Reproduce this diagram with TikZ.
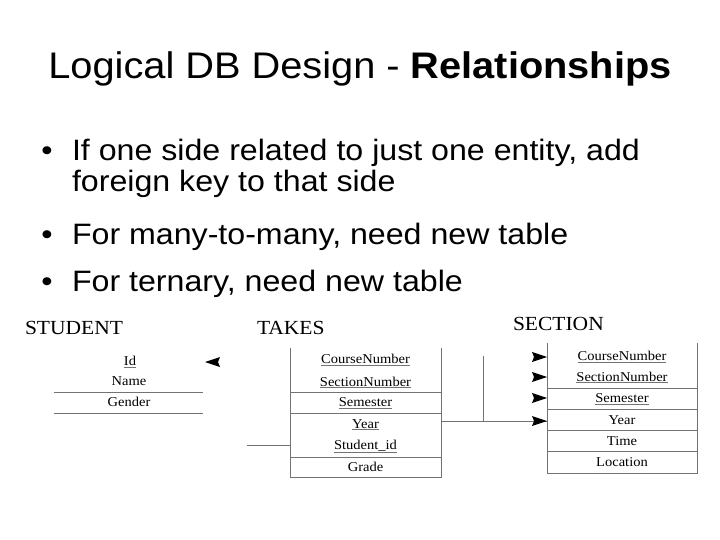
\documentclass[tikz,border=0pt]{standalone}
\usepackage{fontspec}
\setmainfont[FakeStretch=1.075]{Liberation Sans}
\newfontfamily\bulletfont[FakeStretch=1.09]{Liberation Sans}
\newfontfamily\tnr[FakeStretch=1.075]{Liberation Serif}
\definecolor{linegray}{gray}{0.45}
\newcommand{\ku}[1]{{\color{linegray}\underline{\color{black}#1}}}
\tikzset{
  every node/.style={inner sep=0pt, outer sep=0pt},
  titletext/.style={anchor=base, font=\fontsize{37}{44}\selectfont},
  bullettext/.style={anchor=base west, font=\bulletfont\fontsize{29.5}{34}\selectfont},
  bulletdot/.style={anchor=base, font=\bulletfont\fontsize{29.5}{34}\selectfont},
  tablelabel/.style={anchor=base west, font=\tnr\fontsize{20}{24}\selectfont},
  cell/.style={anchor=base, font=\tnr\fontsize{13.5}{16}\selectfont},
  tablerule/.style={draw=linegray, line width=0.8pt},
}
\begin{document}
\begin{tikzpicture}[x=1pt,y=-1pt]
\useasboundingbox (0,0) rectangle (720,540);
% title
\node[titletext] (title) at (360,79) {Logical DB Design - \textbf{Relationships}};
% bullets
\node[bulletdot] (b1) at (47,160.5) {•};
\node[bullettext] (t1) at (72,160.5) {If one side related to just one entity, add};
\node[bullettext] (t1b) at (72,192) {foreign key to that side};
\node[bulletdot] (b2) at (47,244) {•};
\node[bullettext] (t2) at (72,244) {For many-to-many, need new table};
\node[bulletdot] (b3) at (47,291) {•};
\node[bullettext] (t3) at (72,291) {For ternary, need new table};
% table labels
\node[tablelabel] (stu) at (25,334) {STUDENT};
\node[tablelabel] (tak) at (257,334) {TAKES};
\node[tablelabel] (sec) at (513,330) {SECTION};
% STUDENT
\node[cell] (sid) at (130,365.5) {\ku{Id}};
\node[cell] (sname) at (129,385.5) {Name};
\node[cell] (sgen) at (129,406.5) {Gender};
\draw[tablerule] (54,392) -- (203,392) (54,413) -- (203,413);
% TAKES
\draw[tablerule] (290,348) -- (290,477) -- (441,477) -- (441,348);
\draw[tablerule] (290,392) -- (441,392) (290,413) -- (441,413) (290,457) -- (441,457);
\node[cell] (tcn) at (365.5,363.5) {\ku{CourseNumber}};
\node[cell] (tsn) at (365.5,386) {\ku{SectionNumber}};
\node[cell] (tsem) at (365.5,406.5) {\ku{Semester}};
\node[cell] (tyr) at (365.5,428) {\ku{Year}};
\node[cell] (tsid) at (365.5,449.5) {\ku{Student\_id}};
\node[cell] (tgr) at (365.5,471) {Grade};
% SECTION
\draw[tablerule] (547,343) -- (547,473) -- (697,473) -- (697,343);
\draw[tablerule] (547,388) -- (697,388) (547,409) -- (697,409) (547,430) -- (697,430) (547,451) -- (697,451);
\node[cell] (scn) at (622,360.5) {\ku{CourseNumber}};
\node[cell] (ssn) at (622,381) {\ku{SectionNumber}};
\node[cell] (ssem) at (622,402.5) {\ku{Semester}};
\node[cell] (syr) at (622,424) {Year};
\node[cell] (stime) at (622,445) {Time};
\node[cell] (sloc) at (622,466.5) {Location};
% connectors
\coordinate (sfree) at (247,445);
\coordinate (tkstu) at (290,445);
\draw[tablerule] (sfree) -- (tkstu);
\coordinate (tkright) at (441,421);
\coordinate (secyear) at (547,421);
\draw[tablerule] (tkright) -- (secyear);
\coordinate (vtop) at (483,356);
\coordinate (vbot) at (483,421);
\draw[tablerule] (vtop) -- (vbot);
% arrow heads
\foreach \yy in {357,377,398,421}{
  \fill[black] (547,\yy) -- ++(-15,-5) -- ++(2,5) -- ++(-2,5) -- cycle;
}
\fill[black] (205,362) -- ++(15,-5) -- ++(-2,5) -- ++(2,5) -- cycle;
\end{tikzpicture}
\end{document}
